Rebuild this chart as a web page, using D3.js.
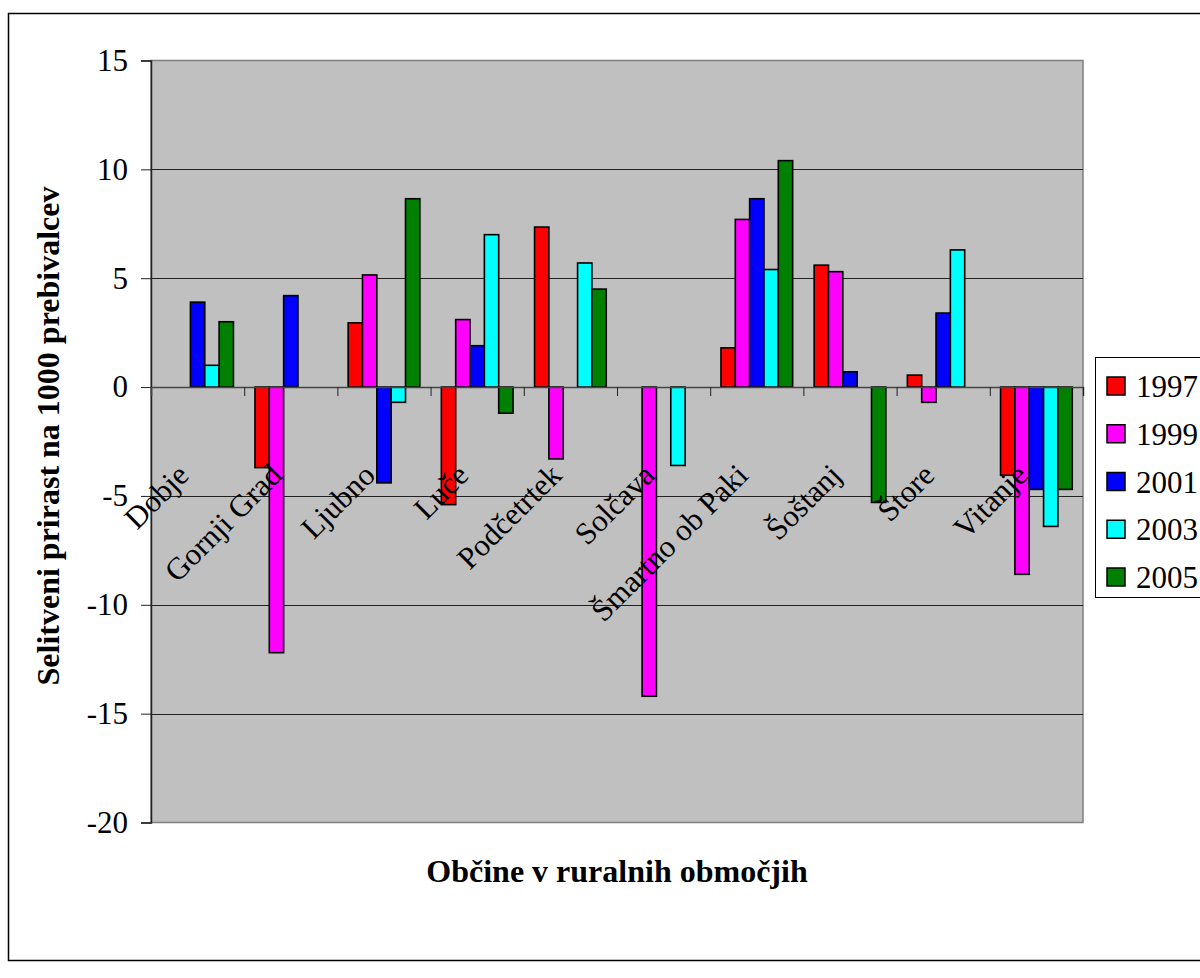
<!DOCTYPE html>
<html><head><meta charset="utf-8">
<script src="https://cdn.jsdelivr.net/npm/d3@7"></script>
<style>body{margin:0;background:#fff;} svg{display:block;}</style>
</head><body>
<svg id="chart" width="1200" height="978"></svg>
<script>
const categories = ["Dobje","Gornji Grad","Ljubno","Luče","Podčetrtek","Solčava","Šmartno ob Paki","Šoštanj","Štore","Vitanje"];
const years = ["1997","1999","2001","2003","2005"];
const v1997 = [0, -3.7, 2.95, -5.4, 7.35, 0, 1.8, 5.6, 0.55, -4.05];
const v1999 = [0, -12.2, 5.15, 3.1, -3.3, -14.2, 7.7, 5.3, -0.7, -8.6];
const v2001 = [3.9, 4.2, -4.4, 1.9, 0, 0, 8.65, 0.7, 3.4, -4.7];
const v2003 = [1.0, 0, -0.7, 7.0, 5.7, -3.6, 5.4, 0, 6.3, -6.4];
const v2005 = [3.0, 0, 8.65, -1.2, 4.5, 0, 10.4, -5.3, 0, -4.7];
const seriesValues = [v1997, v1999, v2001, v2003, v2005];
const colors = ["#FF0000","#FF00FF","#0000FF","#00FFFF","#008000"];
const yTicks = [-20,-15,-10,-5,0,5,10,15];
const yTitle = "Selitveni prirast na 1000 prebivalcev";
const xTitle = "Občine v ruralnih območjih";

const svg = d3.select("#chart");
const font = "'Liberation Serif','Times New Roman',serif";
const L = 151, R = 1083, T = 60.5, B = 822.5;

// outer border
svg.append("rect").attr("x",8.5).attr("y",13.5).attr("width",1200).attr("height",947)
  .attr("fill","#fff").attr("stroke","#000").attr("stroke-width",1.5);

const y = d3.scaleLinear().domain([-20,15]).range([B,T]);
const x0 = d3.scaleBand().domain(categories).range([L,R]).padding(0);
const x1 = d3.scaleBand().domain(years).range([0,x0.bandwidth()]).paddingInner(0).paddingOuter(0.75);

// plot area
svg.append("rect").attr("x",L).attr("y",T).attr("width",R-L).attr("height",B-T)
  .attr("fill","#C0C0C0").attr("stroke","#808080").attr("stroke-width",1.5);

// gridlines
svg.append("g").selectAll("line").data(yTicks.filter(t=>t!==15 && t!==-20 && t!==0)).join("line")
  .attr("x1",L).attr("x2",R).attr("y1",d=>Math.round(y(d))+0.5).attr("y2",d=>Math.round(y(d))+0.5)
  .attr("stroke","#222").attr("stroke-width",1);

// bars
const barsData = [];
categories.forEach((c,i)=>years.forEach((yr,j)=>{
  const v = seriesValues[j][i];
  if (v !== 0) barsData.push({c, yr, v, color: colors[j]});
}));
svg.append("g").selectAll("rect").data(barsData).join("rect")
  .attr("x",d=>x0(d.c)+x1(d.yr))
  .attr("width",x1.bandwidth())
  .attr("y",d=>y(Math.max(0,d.v)))
  .attr("height",d=>Math.abs(y(d.v)-y(0)))
  .attr("fill",d=>d.color).attr("stroke","#000").attr("stroke-width",1.6);

// y axis
const yAxis = d3.axisLeft(y).tickValues(yTicks).tickSize(10).tickPadding(13).tickFormat(d3.format("d"));
const gy = svg.append("g").attr("transform",`translate(${L},0)`).call(yAxis);
gy.select(".domain").attr("stroke","#222").attr("stroke-width",1.5);
gy.selectAll(".tick line").attr("stroke","#222");
gy.selectAll("text").attr("font-family",font).attr("font-size",31).attr("fill","#000")
  .text(d=>d<0?"-"+Math.abs(d):d);

// x axis at zero
const xTickScale = d3.scaleLinear().domain([0,categories.length]).range([L,R]);
const xAxis = d3.axisBottom(xTickScale).tickValues(d3.range(1,categories.length+1)).tickSize(9).tickFormat("");
const gx = svg.append("g").attr("transform",`translate(0,${y(0)})`).call(xAxis);
gx.select(".domain").attr("stroke","#444").attr("stroke-width",1.5);
gx.selectAll(".tick line").attr("stroke","#222");

// category labels
svg.append("g").selectAll("text").data(categories).join("text")
  .attr("transform",d=>`translate(${x0(d)+x0.bandwidth()/2-7},${y(0)+90}) rotate(-45)`)
  .attr("text-anchor","end").attr("font-family",font).attr("font-size",31).attr("fill","#000")
  .text(d=>d);

// axis titles
svg.append("text").attr("transform",`translate(59,${436}) rotate(-90)`)
  .attr("text-anchor","middle").attr("font-family",font).attr("font-weight","bold")
  .attr("font-size",32).text(yTitle);
svg.append("text").attr("x",(L+R)/2).attr("y",882).attr("text-anchor","middle")
  .attr("font-family",font).attr("font-weight","bold").attr("font-size",32).text(xTitle);

// legend
const lg = svg.append("g");
lg.append("rect").attr("x",1095.5).attr("y",357.5).attr("width",120).attr("height",240)
  .attr("fill","#fff").attr("stroke","#000").attr("stroke-width",1);
const ly = d3.scalePoint().domain(years).range([386,577]);
lg.selectAll("rect.sw").data(years).join("rect").attr("class","sw")
  .attr("x",1107).attr("y",d=>ly(d)-9).attr("width",18).attr("height",18)
  .attr("fill",(d,i)=>colors[i]).attr("stroke","#000").attr("stroke-width",1.5);
lg.selectAll("text").data(years).join("text")
  .attr("x",1136).attr("y",d=>ly(d)+11).attr("font-family",font).attr("font-size",31).text(d=>d);
</script>
</body></html>
